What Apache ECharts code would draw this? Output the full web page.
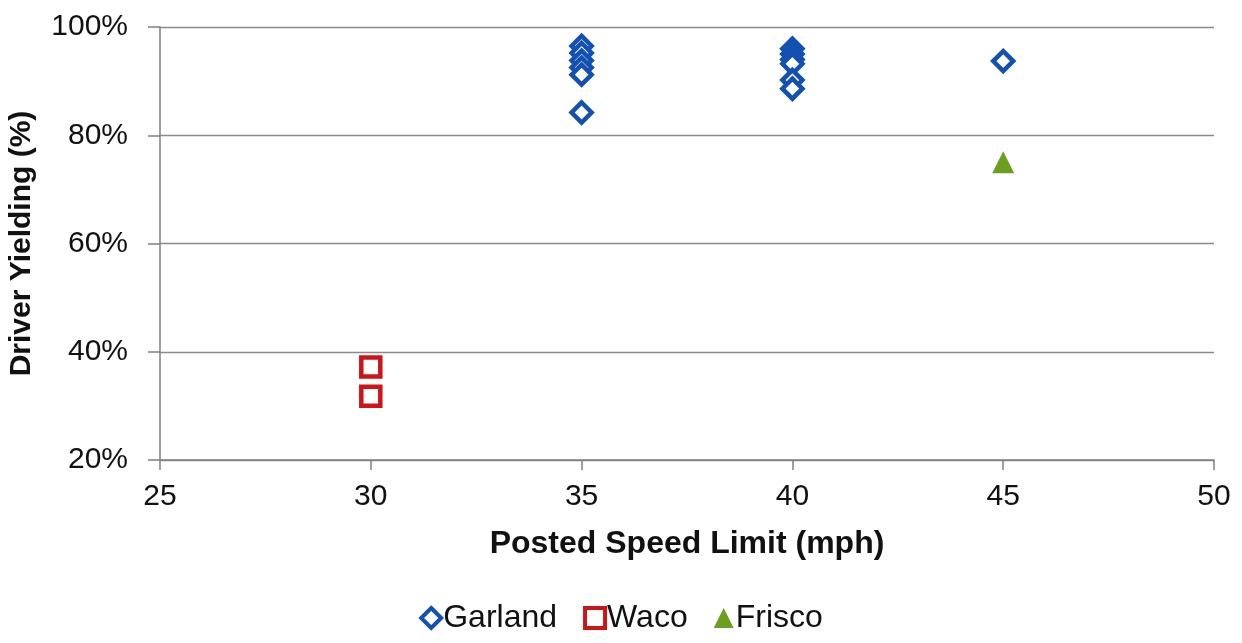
<!DOCTYPE html>
<html>
<head>
<meta charset="utf-8">
<script src="https://cdn.jsdelivr.net/npm/echarts@6/dist/echarts.min.js"></script>
<style>html,body{margin:0;padding:0;background:#fff}#c{width:1242px;height:643px}</style>
</head>
<body>
<div id="c"></div>
<script>
// Posted speed limit (mph), driver yielding (%)
const garlandX = [35, 35, 35, 35, 35, 35, 40, 40, 40, 40, 40, 40, 45];
const garlandY = [96.5, 95.2, 93.8, 92.5, 91.2, 84.2, 96.0, 95.0, 94.0, 93.2, 90.2, 88.6, 93.7];
const wacoX = [30, 30];
const wacoY = [37.2, 31.8];
const friscoX = [45];
const friscoY = [75.0];
const xTicks = [25, 30, 35, 40, 45, 50];
const yTicks = [20, 40, 60, 80, 100];

const pairs = (xs, ys) => xs.map((x, i) => [x, ys[i]]);
const font = "'Liberation Sans', Arial, sans-serif";
const BLUE = '#1250b2', RED = '#cf1418', GREEN = '#6b9f20';

const chart = echarts.init(document.getElementById('c'), null, {renderer: 'canvas'});
chart.setOption({
  backgroundColor: '#fff',
  animation: false,
  grid: {left: 160, right: 28, top: 27, bottom: 183, containLabel: false, outerBoundsMode: 'none'},
  xAxis: {
    type: 'value', min: xTicks[0], max: xTicks[xTicks.length - 1], interval: 5,
    name: 'Posted Speed Limit (mph)', nameLocation: 'middle', nameGap: 68,
    nameTextStyle: {fontFamily: font, fontSize: 32, fontWeight: 'bold', color: '#111'},
    axisLine: {show: true, lineStyle: {color: '#808080', width: 1.5}},
    axisTick: {show: true, length: 10, lineStyle: {color: '#808080', width: 1.5}},
    axisLabel: {fontFamily: font, fontSize: 30, color: '#111', margin: 22},
    splitLine: {show: false}
  },
  yAxis: {
    type: 'value', min: yTicks[0], max: yTicks[yTicks.length - 1], interval: 20,
    name: 'Driver Yielding (%)', nameLocation: 'middle', nameGap: 123,
    nameTextStyle: {fontFamily: font, fontSize: 30, fontWeight: 'bold', color: '#111'},
    axisLine: {show: true, lineStyle: {color: '#808080', width: 1.5}},
    axisTick: {show: true, length: 12, lineStyle: {color: '#808080', width: 1.5}},
    axisLabel: {fontFamily: font, fontSize: 30, color: '#111', margin: 32, formatter: '{value}%'},
    splitLine: {show: true, lineStyle: {color: '#8a8a8a', width: 1.3}}
  },
  legend: {
    bottom: 4, left: 'center', itemGap: 26, itemWidth: 20, itemHeight: 20,
    textStyle: {fontFamily: font, fontSize: 32, color: '#111', padding: [0, 0, 0, -3]},
    data: [
      {name: 'Garland', itemStyle: {borderWidth: 4, borderColor: BLUE, color: '#fff'}},
      {name: 'Waco', itemStyle: {borderWidth: 4, borderColor: RED, color: '#fff'}},
      {name: 'Frisco', itemStyle: {color: GREEN}}
    ]
  },
  series: [
    {
      name: 'Garland', type: 'scatter', symbol: 'diamond', symbolSize: 20,
      itemStyle: {color: '#fff', borderColor: BLUE, borderWidth: 4.5, opacity: 1},
      data: pairs(garlandX, garlandY)
    },
    {
      name: 'Waco', type: 'scatter', symbol: 'rect', symbolSize: 19,
      itemStyle: {color: '#fff', borderColor: RED, borderWidth: 4.5, opacity: 1},
      data: pairs(wacoX, wacoY)
    },
    {
      name: 'Frisco', type: 'scatter', symbol: 'triangle', symbolSize: 22,
      itemStyle: {color: GREEN, opacity: 1},
      data: pairs(friscoX, friscoY)
    }
  ]
});
</script>
</body>
</html>
